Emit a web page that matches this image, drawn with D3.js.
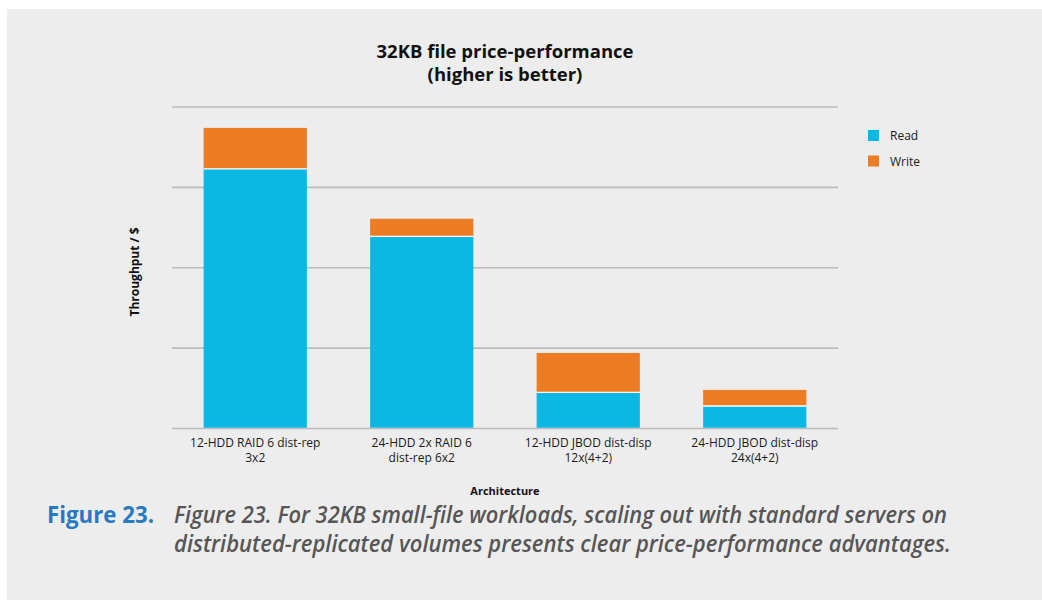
<!DOCTYPE html>
<html>
<head>
<meta charset="utf-8">
<script src="https://cdn.jsdelivr.net/npm/d3@7"></script>
<style>
    body { margin: 0; background: #ffffff; }
    svg { display: block; }
    .gridLine { stroke: #bcbcbc; stroke-width: 1.6; }
    .xLabel { font-family: "Open Sans", sans-serif; font-size: 12px; fill: #1a1a1a; }
    .legendText { font-family: "Open Sans", sans-serif; font-size: 12px; fill: #1a1a1a; }
</style>
</head>
<body>
<script>
// chart data (in gridline units)
const categories = ["12-HDD RAID 6 dist-rep|3x2", "24-HDD 2x RAID 6|dist-rep 6x2", "12-HDD JBOD dist-disp|12x(4+2)", "24-HDD JBOD dist-disp|24x(4+2)"];
const readValues = [3.23, 2.39, 0.45, 0.28];
const writeValues = [0.51, 0.22, 0.49, 0.20];
const seriesNames = ["Read", "Write"];
const gridTicks = [0, 1, 2, 3, 4];

function init() {
    var svg, xScale, yScale, chart, dataset;

    //dimensions
    const width = 1042, height = 600;
    const plot = { left: 172, right: 838, top: 107, bottom: 428.5 };
    const colors = { Read: "#0ab8e3", Write: "#ec7d24" };

    dataset = categories.map(function (c, i) {
        return { label: c.split("|"), read: readValues[i], write: writeValues[i] };
    });

    svg = d3.select("body")
        .append("svg")
        .attr("width", width)
        .attr("height", height);

    //grey panel
    svg.append("rect")
        .attr("x", 7)
        .attr("y", 9)
        .attr("width", width - 7)
        .attr("height", height - 9)
        .attr("fill", "#ededed");

    //title
    const title = svg.append("text")
        .attr("text-anchor", "middle")
        .style("font-family", "'Open Sans', sans-serif")
        .style("font-weight", "bold")
        .style("font-size", "18.5px")
        .attr("fill", "#111");
    title.append("tspan").attr("x", 505).attr("y", 58).text("32KB file price-performance");
    title.append("tspan").attr("x", 505).attr("y", 81).text("(higher is better)");

    //scales
    xScale = d3.scaleBand()
        .domain(categories)
        .range([plot.left, plot.right])
        .paddingInner(0.38)
        .paddingOuter(0.19);

    yScale = d3.scaleLinear()
        .domain([0, 4])
        .range([plot.bottom, plot.top]);

    //gridlines
    svg.append("g")
        .selectAll("line")
        .data(gridTicks)
        .enter()
        .append("line")
        .attr("class", "gridLine")
        .attr("x1", plot.left)
        .attr("x2", plot.right)
        .attr("y1", function (d) { return yScale(d); })
        .attr("y2", function (d) { return yScale(d); });

    chart = svg.append("g");

    //read bars
    chart.selectAll(".readBar")
        .data(dataset)
        .enter()
        .append("rect")
        .attr("class", "readBar")
        .attr("x", function (d, i) { return xScale(categories[i]); })
        .attr("width", xScale.bandwidth())
        .attr("y", function (d) { return yScale(d.read); })
        .attr("height", function (d) { return yScale(0) - yScale(d.read) - 0.8; })
        .attr("fill", colors.Read);

    //write bars stacked on top
    chart.selectAll(".writeBar")
        .data(dataset)
        .enter()
        .append("rect")
        .attr("class", "writeBar")
        .attr("x", function (d, i) { return xScale(categories[i]); })
        .attr("width", xScale.bandwidth())
        .attr("y", function (d) { return yScale(d.read + d.write); })
        .attr("height", function (d) { return yScale(d.read) - yScale(d.read + d.write); })
        .attr("fill", colors.Write);

    //white divider between segments
    chart.selectAll(".divider")
        .data(dataset)
        .enter()
        .append("line")
        .attr("x1", function (d, i) { return xScale(categories[i]); })
        .attr("x2", function (d, i) { return xScale(categories[i]) + xScale.bandwidth(); })
        .attr("y1", function (d) { return yScale(d.read); })
        .attr("y2", function (d) { return yScale(d.read); })
        .attr("stroke", "#ffffff")
        .attr("stroke-width", 1.3);

    //x labels
    const xLabels = svg.append("g")
        .selectAll("text")
        .data(dataset)
        .enter()
        .append("text")
        .attr("class", "xLabel")
        .attr("text-anchor", "middle");
    xLabels.append("tspan")
        .attr("x", function (d, i) { return xScale(categories[i]) + xScale.bandwidth() / 2; })
        .attr("y", 447)
        .text(function (d) { return d.label[0]; });
    xLabels.append("tspan")
        .attr("x", function (d, i) { return xScale(categories[i]) + xScale.bandwidth() / 2; })
        .attr("y", 462)
        .text(function (d) { return d.label[1]; });

    //axis titles
    svg.append("text")
        .attr("text-anchor", "middle")
        .attr("x", 505)
        .attr("y", 495)
        .style("font-family", "'Open Sans', sans-serif")
        .style("font-weight", "bold")
        .style("font-size", "11px")
        .attr("fill", "#111")
        .text("Architecture");

    svg.append("text")
        .attr("text-anchor", "middle")
        .attr("transform", "translate(139,272) rotate(-90)")
        .style("font-family", "'Open Sans', sans-serif")
        .style("font-weight", "bold")
        .style("font-size", "12px")
        .attr("fill", "#111")
        .text("Throughput / $");

    //legend
    const legend = svg.append("g")
        .selectAll("g")
        .data(seriesNames)
        .enter()
        .append("g")
        .attr("transform", function (d, i) { return "translate(868," + (130 + i * 25.5) + ")"; });
    legend.append("rect")
        .attr("width", 11)
        .attr("height", 11)
        .attr("fill", function (d) { return colors[d]; });
    legend.append("text")
        .attr("class", "legendText")
        .attr("x", 22)
        .attr("y", 10)
        .text(function (d) { return d; });

    //figure caption
    svg.append("text")
        .attr("x", 47)
        .attr("y", 523)
        .style("font-family", "'Open Sans', sans-serif")
        .style("font-weight", "bold")
        .style("font-size", "23px")
        .attr("fill", "#2779c0")
        .attr("textLength", 107)
        .attr("lengthAdjust", "spacingAndGlyphs")
        .text("Figure 23.");

    const captionLines = [
        "Figure 23. For 32KB small-file workloads, scaling out with standard servers on",
        "distributed-replicated volumes presents clear price-performance advantages."
    ];
    const captionWidths = [773, 777];
    svg.append("g")
        .selectAll("text")
        .data(captionLines)
        .enter()
        .append("text")
        .attr("x", 174)
        .attr("y", function (d, i) { return 523 + i * 29; })
        .style("font-family", "'Open Sans', sans-serif")
        .style("font-weight", "600")
        .style("font-style", "italic")
        .style("font-size", "23px")
        .attr("fill", "#565656")
        .attr("textLength", function (d, i) { return captionWidths[i]; })
        .attr("lengthAdjust", "spacingAndGlyphs")
        .text(function (d) { return d; });
}

window.onload = init;
</script>
</body>
</html>
